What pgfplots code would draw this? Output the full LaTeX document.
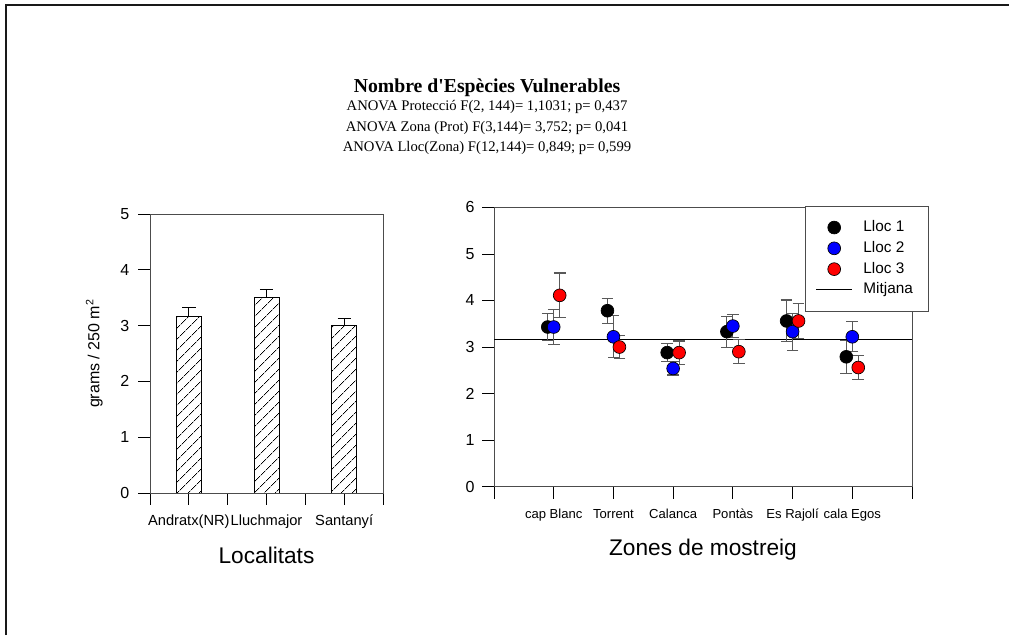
\documentclass[border=0pt]{standalone}
\usepackage{fontspec}
\setmainfont{Liberation Sans}
\newfontfamily\seriffont{Liberation Serif}
\usepackage{pgfplots}
\pgfplotsset{compat=1.18}
\usetikzlibrary{patterns.meta}
\begin{document}
\begin{tikzpicture}
% ---------------- left axis ----------------
\begin{axis}[
  at={(112.5pt,106.5pt)}, anchor=south west,
  scale only axis, width=174.75pt, height=209.25pt,
  xmin=0.5, xmax=3.5, ymin=0, ymax=5,
  xtick={0.5,1,1.5,2,2.5,3,3.5},
  xticklabels={,Andratx(NR),,Lluchmajor,,Santanyí,},
  ytick={0,1,2,3,4,5},
  tick align=outside, major tick length=9pt,
  xtick pos=left, ytick pos=left,
  tick style={black, line width=0.6pt},
  axis line style={black!70, line width=0.7pt},
  /pgf/number format/assume math mode=true,
  yticklabel style={font=\fontsize{12}{14}\selectfont, xshift=-3pt},
  xticklabel style={font=\fontsize{11}{13}\selectfont, yshift=-3pt, text height=8.5pt, text depth=2.5pt},
  ylabel={grams / 250 m\textsuperscript{2}},
  ylabel style={font=\fontsize{12}{14}\selectfont, at={(axis description cs:-0.2176,0.5)}, anchor=base},
  xlabel={Localitats},
  xlabel style={font=\fontsize{17}{20}\selectfont, at={(axis description cs:0.5,-0.252)}, anchor=base},
]
\addplot[ybar, bar width=18.75pt, draw=black, line width=0.7pt,
  pattern={Lines[angle=45,distance=6.5pt,line width=0.75pt]},
  error bars/.cd, y dir=plus, y explicit,
  error bar style={black, line width=0.7pt},
  error mark options={rotate=90, mark size=5pt, black, line width=0.7pt}]
coordinates {(1,3.17) +- (0,0.15) (2,3.51) +- (0,0.14) (3,3.00) +- (0,0.12)};
\end{axis}
% ---------------- right axis ----------------
\begin{axis}[
  at={(370.5pt,111.2pt)}, anchor=south west,
  scale only axis, width=313.5pt, height=209.55pt,
  xmin=0, xmax=7, ymin=0, ymax=6,
  xtick={0,1,2,3,4,5,6,7},
  xticklabels={,cap Blanc,Torrent,Calanca,Pontàs,Es Rajolí,cala Egos,},
  ytick={0,1,2,3,4,5,6},
  tick align=outside, major tick length=9pt,
  xtick pos=left, ytick pos=left,
  tick style={black, line width=0.6pt},
  axis line style={black!70, line width=0.7pt},
  /pgf/number format/assume math mode=true,
  yticklabel style={font=\fontsize{12}{14}\selectfont, xshift=-2pt},
  xticklabel style={font=\fontsize{9.8}{11}\selectfont, yshift=-3pt, text height=8pt, text depth=2.2pt},
  xlabel={Zones de mostreig},
  xlabel style={font=\fontsize{17}{20}\selectfont, at={(axis description cs:0.5,-0.2445)}, anchor=base},
  legend image code/.code={\draw[mark repeat=2,mark phase=2,#1] plot coordinates {(0pt,0pt) (13.5pt,0pt) (27pt,0pt)};},
  legend style={at={(rel axis cs:1.0414,1.0057)}, anchor=north east,
    draw=black!70, line width=0.7pt, fill=white,
    font=\fontsize{11.5}{13}\selectfont,
    inner xsep=8pt, inner ysep=9.5pt, row sep=2.6pt,
    nodes={inner xsep=4pt, inner ysep=1pt, text height=8.5pt, text depth=2.5pt},
    /tikz/every odd column/.append style={column sep=4pt}},
  legend cell align=left,
]
% mean line
\addplot[black, line width=0.8pt, forget plot] coordinates {(0,3.16) (7,3.16)};
% error bars (drawn under markers)
\addplot[only marks, mark=none, forget plot,
  error bars/.cd, y dir=both, y explicit,
  error bar style={black!65, line width=0.8pt},
  error mark options={rotate=90, mark size=4.4pt, black!65, line width=0.8pt}]
coordinates {(0.9,3.43) +- (0,0.29) (1.9,3.78) +- (0,0.27) (2.9,2.88) +- (0,0.20)
             (3.9,3.33) +- (0,0.33) (4.9,3.56) +- (0,0.45) (5.9,2.79) +- (0,0.36)};
\addplot[only marks, mark=none, forget plot,
  error bars/.cd, y dir=both, y explicit,
  error bar style={black!65, line width=0.8pt},
  error mark options={rotate=90, mark size=4.4pt, black!65, line width=0.8pt}]
coordinates {(1,3.43) +- (0,0.38) (2,3.22) +- (0,0.45) (3,2.54) +- (0,0.14)
             (4,3.45) +- (0,0.24) (5,3.33) +- (0,0.40) (6,3.22) +- (0,0.32)};
\addplot[only marks, mark=none, forget plot,
  error bars/.cd, y dir=both, y explicit,
  error bar style={black!65, line width=0.8pt},
  error mark options={rotate=90, mark size=4.4pt, black!65, line width=0.8pt}]
coordinates {(1.1,4.11) +- (0,0.48) (2.1,3.00) +- (0,0.24) (3.1,2.88) +- (0,0.25)
             (4.1,2.90) +- (0,0.26) (5.1,3.56) +- (0,0.37) (6.1,2.56) +- (0,0.25)};
% markers
\addplot[only marks, mark=*, mark size=4.8pt, mark options={fill=black, draw=black, line width=0.5pt}]
coordinates {(0.9,3.43) (1.9,3.78) (2.9,2.88) (3.9,3.33) (4.9,3.56) (5.9,2.79)};
\addlegendentry{Lloc 1}
\addplot[only marks, mark=*, mark size=4.8pt, mark options={fill=blue, draw=black, line width=0.5pt}]
coordinates {(1,3.43) (2,3.22) (3,2.54) (4,3.45) (5,3.33) (6,3.22)};
\addlegendentry{Lloc 2}
\addplot[only marks, mark=*, mark size=4.8pt, mark options={fill=red, draw=black, line width=0.5pt}]
coordinates {(1.1,4.11) (2.1,3.00) (3.1,2.88) (4.1,2.90) (5.1,3.56) (6.1,2.56)};
\addlegendentry{Lloc 3}
\addlegendimage{black, line width=0.8pt}
\addlegendentry{Mitjana}
\end{axis}
% ---------------- titles and frame (pixel coordinates) ----------------
\begin{scope}[x=0.75pt, y=-0.75pt, yshift=476.25pt]
\node[anchor=center, font=\seriffont\bfseries\fontsize{14.8}{17}\selectfont] at (487,88) {Nombre d'Espècies Vulnerables};
\node[anchor=center, font=\seriffont\fontsize{11}{13}\selectfont] at (487,107) {ANOVA Protecció F(2, 144)= 1,1031; p= 0,437};
\node[anchor=center, font=\seriffont\fontsize{11}{13}\selectfont] at (487,128) {ANOVA Zona (Prot) F(3,144)= 3,752; p= 0,041};
\node[anchor=center, font=\seriffont\fontsize{11}{13}\selectfont] at (487,148) {ANOVA Lloc(Zona) F(12,144)= 0,849; p= 0,599};
\draw[black!90, line width=1.5pt] (6,635) -- (6,5) -- (1009,5);
\end{scope}
\pgfresetboundingbox
\useasboundingbox (0,0) rectangle (756.75pt,476.25pt);
\end{tikzpicture}
\end{document}
